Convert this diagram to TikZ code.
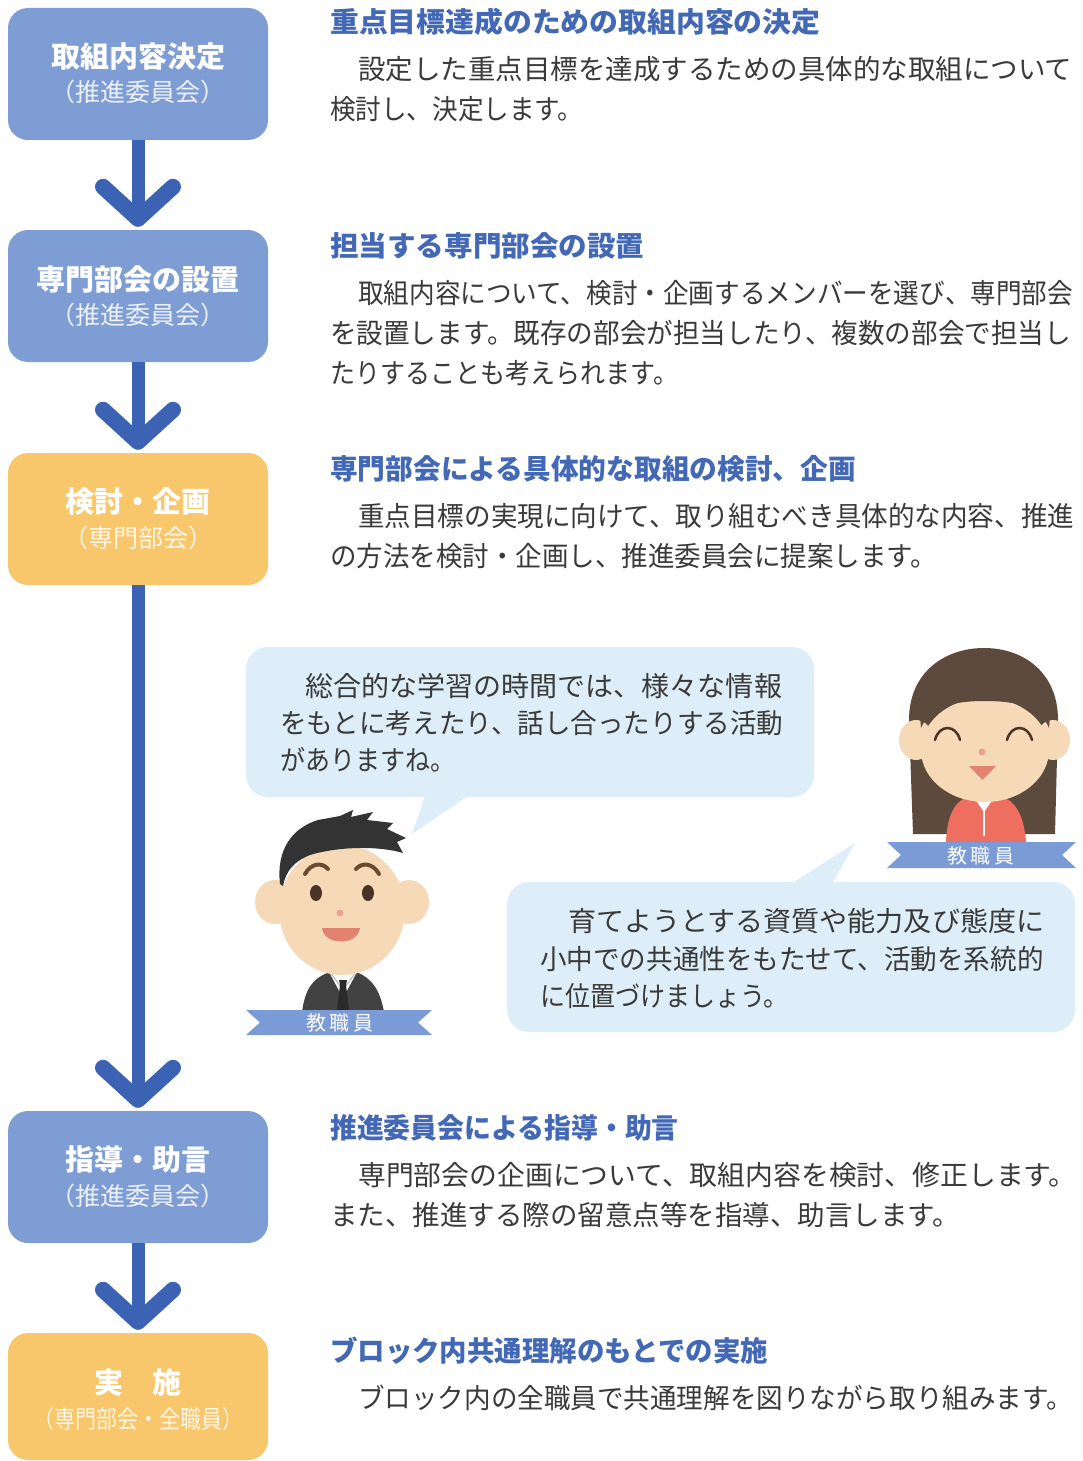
\documentclass[tikz,border=0pt]{standalone}
\usepackage{fontspec}
\usepackage{graphicx}
\setmainfont{Noto Sans CJK JP}
\usetikzlibrary{calc}

\definecolor{boxblue}{HTML}{7E9DD5}
\definecolor{boxorange}{HTML}{F8C76B}
\definecolor{arrowblue}{HTML}{3C62B3}
\definecolor{headblue}{HTML}{4268B6}
\definecolor{bodygray}{HTML}{3A3A3A}
\definecolor{bubblefill}{HTML}{DDEEF9}
\definecolor{ribbon}{HTML}{7B9BD6}
\definecolor{skin}{HTML}{F6DAB8}
\definecolor{hairdark}{HTML}{333333}
\definecolor{hairbrown}{HTML}{5C4A3C}
\definecolor{suitgray}{HTML}{424242}
\definecolor{tiedark}{HTML}{2A2A2A}
\definecolor{blouse}{HTML}{EE6E60}
\definecolor{mouthpink}{HTML}{E2836F}
\definecolor{nosepink}{HTML}{E9A095}
\definecolor{browbrown}{HTML}{6B4A32}
\definecolor{eyebrown}{HTML}{4A3426}

% horizontal squeeze of one line of text
\newcommand{\hsq}[2]{\scalebox{#1}[1]{#2}}

\begin{document}
\begin{tikzpicture}[x=1pt,y=-1pt,
  stepbox/.style={rounded corners=20pt, minimum width=260pt, minimum height=132pt, inner sep=0pt, draw=none},
  boxtitle/.style={font=\fontsize{29}{34}\selectfont\bfseries, text=white, inner sep=0pt, anchor=base},
  boxsub/.style={font=\fontsize{25}{29}\selectfont, inner sep=0pt, anchor=base},
  shaft/.style={draw=arrowblue, line width=13pt},
  chev/.style={draw=arrowblue, line width=16pt, line cap=round, line join=round},
  head/.style={font=\fontsize{28}{32}\selectfont\bfseries, text=headblue, inner sep=0pt, anchor=base west},
  body/.style={font=\fontsize{27.5}{32}\selectfont, text=bodygray, inner sep=0pt, anchor=base west},
  bubble/.style={fill=bubblefill, rounded corners=22pt, minimum width=568pt, minimum height=150pt, inner sep=0pt},
  btext/.style={font=\fontsize{27.5}{32}\selectfont, text=bodygray, inner sep=0pt, anchor=base west},
  ribtext/.style={font=\fontsize{20}{24}\selectfont, text=white, inner sep=0pt},
]
\useasboundingbox (0,0) rectangle (1083,1461);
\fill[white] (0,0) rectangle (1083,1461);

% ---------- flow boxes ----------
\node[stepbox, fill=boxblue]   (b1) at (138,74)   {};
\node[stepbox, fill=boxblue]   (b2) at (138,296)  {};
\node[stepbox, fill=boxorange] (b3) at (138,519)  {};
\node[stepbox, fill=boxblue]   (b4) at (138,1177) {};
\node[stepbox, fill=boxorange, minimum height=127pt] (b5) at (138,1396.5) {};

\node[boxtitle] (t1) at (138,68) {取組内容決定};
\node[boxsub, text=white!86!boxblue] (u1) at (138,102) {（推進委員会）};
\node[boxtitle] (t2) at (138,290) {専門部会の設置};
\node[boxsub, text=white!86!boxblue] (u2) at (138,324) {（推進委員会）};
\node[boxtitle] (t3) at (138,512) {検討・企画};
\node[boxsub, text=white!82!boxorange] (u3) at (138,547) {（専門部会）};
\node[boxtitle] (t4) at (138,1170) {指導・助言};
\node[boxsub, text=white!86!boxblue] (u4) at (138,1205) {（推進委員会）};
\node[boxtitle] (t5) at (138,1393) {実　施};
\node[boxsub, text=white!82!boxorange] (u5) at (138,1428) {\hsq{0.84}{（専門部会・全職員）}};

% ---------- arrows between boxes ----------
\foreach \a/\b in {b1/b2, b2/b3, b3/b4, b4/b5} {
  \draw[shaft, shorten >=11pt] (\a) -- (\b);
  \draw[chev] ([shift={(-35,-43)}]\b.north) -- ([shift={(0,-11)}]\b.north) -- ([shift={(35,-43)}]\b.north);
}

% ---------- step descriptions ----------
\node[head] (h1) at (330,33) {\hsq{1.03}{重点目標達成のための取組内容の決定}};
\node[body] (p1a) at (358,80)  {設定した重点目標を達成するための具体的な取組について};
\node[body] (p1b) at (330,120) {\hsq{0.93}{検討し、決定します。}};

\node[head] (h2) at (330,256) {\hsq{1.02}{担当する専門部会の設置}};
\node[body] (p2a) at (358,303) {\hsq{0.931}{取組内容について、検討・企画するメンバーを選び、専門部会}};
\node[body] (p2b) at (330,343) {\hsq{0.967}{を設置します。既存の部会が担当したり、複数の部会で担当し}};
\node[body] (p2c) at (330,383) {\hsq{0.91}{たりすることも考えられます。}};

\node[head] (h3) at (330,479) {\hsq{0.99}{専門部会による具体的な取組の検討、企画}};
\node[body] (p3a) at (358,526) {\hsq{0.966}{重点目標の実現に向けて、取り組むべき具体的な内容、推進}};
\node[body] (p3b) at (330,566) {\hsq{0.964}{の方法を検討・企画し、推進委員会に提案します。}};

\node[head] (h4) at (330,1138) {\hsq{0.96}{推進委員会による指導・助言}};
\node[body] (p4a) at (358,1185) {\hsq{1.012}{専門部会の企画について、取組内容を検討、修正します。}};
\node[body] (p4b) at (330,1225) {また、推進する際の留意点等を指導、助言します。};

\node[head] (h5) at (330,1361) {\hsq{0.98}{ブロック内共通理解のもとでの実施}};
\node[body] (p5a) at (358,1408) {\hsq{0.966}{ブロック内の全職員で共通理解を図りながら取り組みます。}};

% ---------- speech bubbles ----------
\node[bubble] (bub1) at (530,722) {};
\coordinate (tip1) at (412,834);
\fill[bubblefill] ([shift={(-104,-4)}]bub1.south) -- (tip1) -- ([shift={(-58,-4)}]bub1.south) -- cycle;
\node[btext] (q1a) at (305,696.5) {\hsq{1.02}{総合的な学習の時間では、様々な情報}};
\node[btext] (q1b) at (280,733.5) {\hsq{0.966}{をもとに考えたり、話し合ったりする活動}};
\node[btext] (q1c) at (280,770.5) {\hsq{0.91}{がありますね。}};

\node[bubble] (bub2) at (791,957) {};
\coordinate (tip2) at (855,843);
\fill[bubblefill] ([shift={(-3,4)}]bub2.north) -- (tip2) -- ([shift={(40,4)}]bub2.north) -- cycle;
\node[btext] (q2a) at (568,931.5) {\hsq{1.02}{育てようとする資質や能力及び態度に}};
\node[btext] (q2b) at (540,969.5) {\hsq{0.966}{小中での共通性をもたせて、活動を系統的}};
\node[btext] (q2c) at (540,1006.5) {\hsq{0.91}{に位置づけましょう。}};

% ---------- male teacher ----------
% suit and shirt
\fill[suitgray] (302,1012) .. controls (305,990) and (312,978) .. (330,972) -- (356,972) .. controls (372,978) and (380,990) .. (384,1012) -- cycle;
\fill[white] (328,970) -- (343,998) -- (358,970) -- cycle;
\draw[gray!60, line width=1pt] (330,972) -- (343,990) -- (356,972);
\fill[tiedark] (339,980) -- (347,980) -- (346,985) -- (349,1010) -- (337,1010) -- (340,985) -- cycle;
% ears and face
\fill[skin] (275,902) ellipse [x radius=20, y radius=22];
\fill[skin] (409,902) ellipse [x radius=20, y radius=22];
\fill[skin] (342,910) ellipse [x radius=63, y radius=65];
% hair
\fill[hairdark] (280,884) .. controls (276,850) and (292,828) .. (318,820) -- (340,816) -- (353,810) -- (351,817) -- (373,812) -- (367,820) .. controls (380,821) .. (393,823) -- (387,829) -- (406,838) -- (397,842) -- (403,853) .. controls (380,846) and (340,846) .. (310,855) .. controls (295,861) and (286,870) .. (283,886) -- cycle;
% brows, eyes, nose, mouth
\draw[browbrown, line width=4pt, line cap=round] (305,874) .. controls (311,863) and (322,862) .. (328,869);
\draw[browbrown, line width=4pt, line cap=round] (356,869) .. controls (362,862) and (373,863) .. (379,874);
\fill[eyebrown] (316,893) ellipse [x radius=6, y radius=8];
\fill[eyebrown] (368,893) ellipse [x radius=6, y radius=8];
\fill[nosepink] (340,913) circle [radius=3.5];
\fill[mouthpink] (322,928) .. controls (324,946) and (358,946) .. (360,928) -- cycle;
% name ribbon
\fill[ribbon] (246,1010) -- (432,1010) -- (418,1022.5) -- (432,1035) -- (246,1035) -- (260,1022.5) -- cycle;
\node[ribtext] (r1) at (340,1023) {教\,職\,員};

% ---------- female teacher ----------
\fill[hairbrown] (913,834) -- (909,720) .. controls (909,672) and (945,648) .. (984,648) .. controls (1023,648) and (1058,672) .. (1058,720) -- (1055,834) -- cycle;
\fill[blouse] (946,842) .. controls (947,815) and (955,800) .. (970,796) -- (1000,796) .. controls (1015,800) and (1024,815) .. (1026,842) -- cycle;
\fill[white] (972,795) -- (984,812) -- (996,795) -- cycle;
\draw[white, line width=2pt] (984,805) -- (984,836);
\fill[skin] (916,740) ellipse [x radius=17, y radius=20];
\fill[skin] (1053,740) ellipse [x radius=17, y radius=20];
\fill[skin] (985,750) ellipse [x radius=64, y radius=52];
% bangs
\fill[hairbrown] (921,728) .. controls (930,706) and (955,701) .. (985,701) .. controls (1015,701) and (1040,706) .. (1049,728) -- (1052,690) -- (918,690) -- cycle;
% closed eyes, nose, mouth
\draw[eyebrown, line width=2.5pt, line cap=round] (935,740) .. controls (939,724) and (956,724) .. (960,740);
\draw[eyebrown, line width=2.5pt, line cap=round] (1007,740) .. controls (1011,724) and (1028,724) .. (1032,740);
\fill[nosepink] (982,752) circle [radius=3.5];
\fill[mouthpink] (969,766) -- (996,766) -- (982.5,780) -- cycle;
% name ribbon
\fill[ribbon] (887,842) -- (1076,842) -- (1062,855) -- (1076,868) -- (887,868) -- (901,855) -- cycle;
\node[ribtext] (r2) at (981,856) {教\,職\,員};

\end{tikzpicture}
\end{document}
